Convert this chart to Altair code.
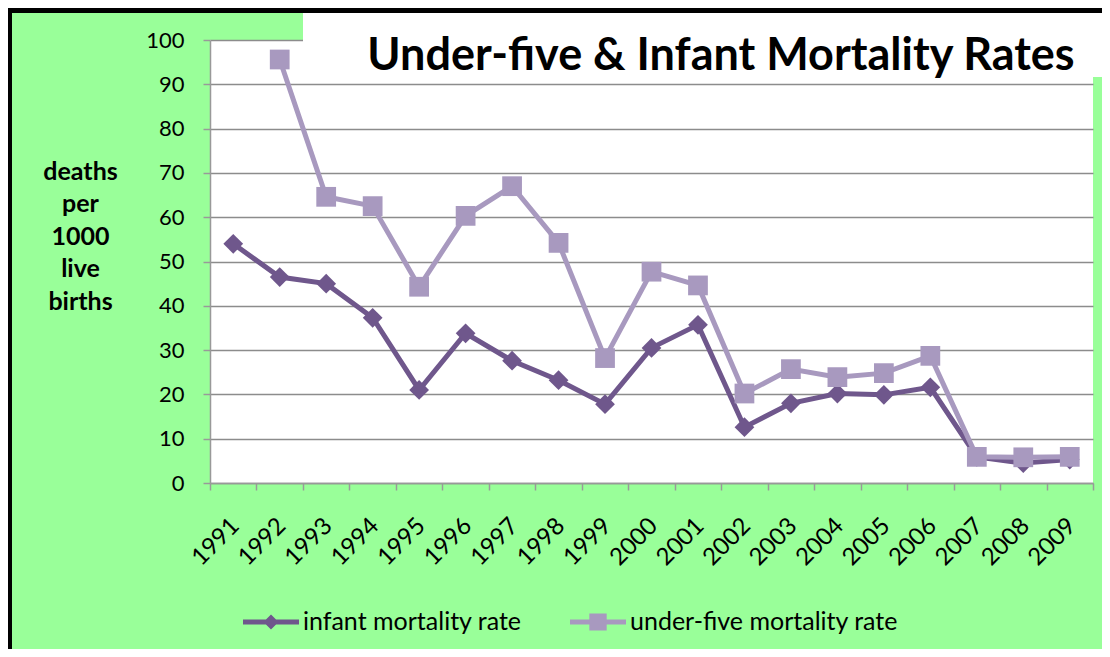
import altair as alt
import pandas as pd

years = [str(y) for y in range(1991, 2010)]
infant = [54, 46.5, 45, 37.3, 21, 33.8, 27.6, 23.2, 17.8, 30.5, 35.7, 12.6, 18, 20.2, 19.9, 21.6, 5.9, 4.5, 5.3]
under5 = [None, 95.6, 64.6, 62.5, 44.3, 60.3, 67, 54.2, 28.2, 47.7, 44.6, 20.2, 25.7, 23.9, 24.8, 28.7, 5.9, 5.8, 5.9]
series_names = ["infant mortality rate", "under-five mortality rate"]
series_colors = ["#6F578C", "#A899BF"]
title_text = "Under-five & Infant Mortality Rates"
y_title = ["deaths", "per", "1000", "live", "births"]

rows = []
for y, a, b in zip(years, infant, under5):
    rows.append({"year": y, "series": series_names[0], "value": a})
    if b is not None:
        rows.append({"year": y, "series": series_names[1], "value": b})
df = pd.DataFrame(rows)
one = pd.DataFrame({"k": [0]})

FONT = "Lato"
W, H = 883, 443

x_enc = alt.X("year:N", sort=years,
              scale=alt.Scale(type="band", paddingInner=0, paddingOuter=0),
              axis=alt.Axis(title=None, labelAngle=-45, labelAlign="right", labelBaseline="middle",
                            labelPadding=32, labelOffset=2, tickBand="extent", tickSize=7,
                            labelFontSize=24, labelFont=FONT, labelColor="black",
                            domainColor="#999999", tickColor="#999999", domainWidth=1.5, tickWidth=1.5,
                            grid=False))
y_enc = alt.Y("value:Q", scale=alt.Scale(domain=[0, 100]),
              axis=alt.Axis(values=list(range(0, 101, 10)), tickSize=7, labelPadding=19,
                            labelFontSize=22, labelFont=FONT, labelColor="black",
                            domainColor="#999999", tickColor="#999999", domainWidth=1.5, tickWidth=1.5,
                            gridColor="#8C8C8C", gridWidth=1.5,
                            title=y_title, titleAngle=0, titleAlign="center", titleBaseline="middle",
                            titleX=-130, titleY=131, titleFont=FONT, titleFontSize=25,
                            titleFontWeight="bold", titleColor="black", titleLineHeight=32.5))

base = alt.Chart(df)
layers = []
shapes = ["diamond", "square"]
for name, col, shp in zip(series_names, series_colors, shapes):
    sub = base.transform_filter(alt.datum.series == name)
    layers.append(sub.mark_line(strokeWidth=5).encode(x=x_enc, y=y_enc, color=alt.value(col)))
    layers.append(sub.mark_point(filled=True, opacity=1, shape=shp, size=390).encode(
        x=x_enc, y=y_enc, color=alt.value(col)))

diamond_path = "M-1,-0.09L-0.18,-0.09L0,-0.27L0.18,-0.09L1,-0.09L1,0.09L0.18,0.09L0,0.27L-0.18,0.09L-1,0.09Z"
square_path = "M-1,-0.09L-0.31,-0.09L-0.31,-0.3L0.31,-0.3L0.31,-0.09L1,-0.09L1,0.09L0.31,0.09L0.31,0.3L-0.31,0.3L-0.31,0.09L-1,0.09Z"
legend_layer = base.transform_filter("false").mark_point(filled=True, opacity=1).encode(
    x=x_enc, y=y_enc,
    color=alt.Color("series:N", scale=alt.Scale(domain=series_names, range=series_colors),
                    legend=alt.Legend(title=None, orient="none", legendX=33, legendY=554,
                                      direction="horizontal", symbolSize=3136, symbolStrokeWidth=0,
                                      labelFont=FONT, labelFontSize=25, labelColor="black",
                                      labelLimit=0, labelOffset=4, columnPadding=48, padding=0)),
    shape=alt.Shape("series:N", scale=alt.Scale(domain=series_names, range=[diamond_path, square_path])),
)

deco = alt.Chart(one)
title_box = deco.mark_rect(color="white").encode(
    x=alt.value(93), x2=alt.value(910), y=alt.value(-27), y2=alt.value(37))
title_mark = deco.mark_text(font=FONT, fontSize=45, fontWeight="bold", color="black",
                            align="center", baseline="alphabetic").encode(
    x=alt.value(511), y=alt.value(30), text=alt.value(title_text))
top_border = deco.mark_rect(color="black").encode(
    x=alt.value(-202), x2=alt.value(910), y=alt.value(-32), y2=alt.value(-27))
left_border = deco.mark_rect(color="black").encode(
    x=alt.value(-202), x2=alt.value(-198), y=alt.value(-32), y2=alt.value(640))

chart = alt.layer(*layers, legend_layer, title_box, title_mark, top_border, left_border).properties(
    width=W, height=H,
    autosize=alt.AutoSizeParams(type="none"),
    padding={"left": 202, "top": 32, "right": 9, "bottom": 166},
    background="#99FF99",
).configure_view(fill="white", stroke=None)

chart.save("out.html", embed_options={"renderer": "svg", "actions": False})
